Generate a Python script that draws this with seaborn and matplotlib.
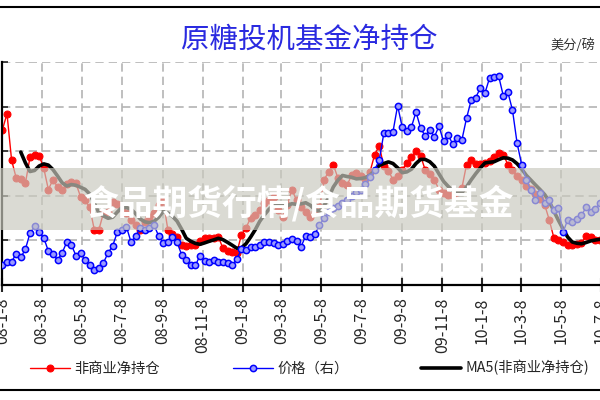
import pandas as pd
import seaborn as sns
import matplotlib.pyplot as plt
from matplotlib.lines import Line2D
from matplotlib.patches import Rectangle

# weekly COT data, first week 2008-01-08
start_date = "2008-01-08"

# non-commercial net position, thousand contracts
net_position = [
    174, 192, 140, 120, 119, 114, 143, 146, 145, 131,
    107, 118, 110, 107, 113, 115, 114, 99, 95, 87,
    62, 62, 81, 82, 93, 91, 87, 81, 73, 67,
    62, 71, 76, 81, 90, 95, 62, 57, 54, 45,
    44, 45, 45, 49, 53, 53, 53, 54, 41, 38,
    37, 36, 56, 64, 75, 78, 84, 92, 95, 99,
    84, 76, 90, 107, 95, 87, 82, 76, 82, 87,
    118, 127, 135, 120, 114, 112, 123, 126, 122, 119,
    127, 146, 156, 133, 128, 118, 122, 129, 137, 143,
    150, 145, 129, 124, 118, 107, 103, 101, 101, 104,
    109, 135, 140, 136, 136, 137, 139, 143, 148, 146,
    135, 129, 122, 118, 111, 108, 102, 96, 90, 73,
    53, 50, 48, 45, 45, 46, 47, 55, 54, 50,
    50,
]

# raw sugar price, US cents per pound (right axis)
price = [
    7.2, 7.6, 7.6, 8.5, 8.1, 9.0, 10.8, 11.6, 10.9, 10.3,
    8.8, 8.5, 7.8, 8.6, 9.8, 9.5, 8.3, 8.6, 7.8, 7.2,
    6.7, 6.9, 7.5, 8.6, 9.4, 10.9, 11.2, 11.5, 9.8, 10.5,
    11.4, 11.2, 11.4, 11.7, 10.5, 9.7, 9.8, 10.4, 9.8, 8.4,
    7.8, 7.2, 7.2, 8.3, 7.7, 7.6, 7.8, 7.6, 7.6, 7.5,
    7.2, 7.9, 9.0, 8.9, 9.3, 9.3, 9.5, 9.8, 9.8, 9.7,
    9.5, 9.6, 9.9, 10.2, 9.9, 9.3, 10.5, 10.4, 10.7, 11.7,
    12.5, 13.2, 13.6, 13.9, 14.2, 14.5, 15.0, 15.4, 15.6, 16.3,
    17.1, 17.9, 19.0, 22.0, 22.0, 22.2, 25.1, 22.7, 22.3, 22.7,
    24.4, 22.6, 21.7, 22.4, 21.6, 22.8, 21.1, 21.8, 20.8, 21.5,
    21.3, 23.7, 25.7, 26.0, 27.1, 26.5, 28.2, 28.3, 28.4, 26.2,
    26.6, 24.6, 20.9, 18.5, 16.8, 15.6, 14.5, 15.3, 14.2, 14.5,
    13.4, 13.6, 10.9, 12.3, 12.1, 12.4, 12.8, 13.7, 13.2, 13.5,
    14.2,
]

tick_labels = ["08-1-8", "08-3-8", "08-5-8", "08-7-8", "08-9-8", "08-11-8",
               "09-1-8", "09-3-8", "09-5-8", "09-7-8", "09-9-8", "09-11-8",
               "10-1-8", "10-3-8", "10-5-8", "10-7-8"]

df = pd.DataFrame({
    "date": pd.date_range(start_date, periods=len(net_position), freq="7D"),
    "net": net_position,
    "price": price,
})
df["ma5"] = df["net"].rolling(5).mean()
tick_dates = pd.to_datetime(["20" + t for t in tick_labels])

sns.set_style("white")
plt.rcParams["font.family"] = ["Noto Sans CJK SC", "DejaVu Sans"]

fig = plt.figure(figsize=(6, 4), dpi=100)
ax = fig.add_axes([0.004, 0.2875, 1.011, 0.5575])

sns.lineplot(data=df, x="date", y="net", ax=ax, color="red", lw=1,
             marker="o", markersize=5, markeredgecolor="red", label="非商业净持仓")
sns.lineplot(data=df, x="date", y="ma5", ax=ax, color="black", lw=2.6,
             label="MA5(非商业净持仓)")

ax2 = ax.twinx()
sns.lineplot(data=df, x="date", y="price", ax=ax2, color="blue", lw=1,
             marker="o", markersize=4.5, markerfacecolor="#9a9aff",
             markeredgecolor="blue", markeredgewidth=1.1, label="价格（右）")

ax.set_xlim(pd.Timestamp("2008-01-08"), pd.Timestamp("2010-07-20"))
ax.set_ylim(0, 250)
ax2.set_ylim(5, 30)
ax.set_yticks([50, 100, 150, 200, 250])
ax.set_xticks(tick_dates)
ax.set_xticklabels(tick_labels, rotation=90, fontsize=11.5, va="top")
ax.set_xlabel("")
ax.set_ylabel("")
ax2.set_ylabel("")
ax.tick_params(axis="y", direction="in", length=4, width=1.2, labelleft=False, left=True)
ax.tick_params(axis="x", direction="inout", length=10, width=1.5, pad=4, bottom=True)
ax2.set_yticks([])
ax.grid(True, color="#b4b4b4", linestyle=(0, (5, 3)), linewidth=1.2)
ax2.grid(False)
for s in ["top", "right"]:
    ax.spines[s].set_visible(False)
    ax2.spines[s].set_visible(False)
ax2.spines["left"].set_visible(False)
ax2.spines["bottom"].set_visible(False)
ax.spines["left"].set_color("black")
ax.spines["left"].set_linewidth(1.6)
ax.spines["bottom"].set_color("black")
ax.spines["bottom"].set_linewidth(1.6)

# legend below the axis
h1, l1 = ax.get_legend_handles_labels()
h2, l2 = ax2.get_legend_handles_labels()
ax.legend_.remove()
ax2.legend_.remove()
fig.legend([h1[0], h2[0], h1[1]], [l1[0], l2[0], l1[1]], ncol=3,
           loc="center left", bbox_to_anchor=(0.05, 0.08), frameon=False,
           fontsize=10.3, handlelength=2.8, handletextpad=0.3, columnspacing=5.1,
           borderpad=0, borderaxespad=0)

# title and unit
fig.text(0.515, 0.9, "原糖投机基金净持仓", ha="center", va="center",
         fontsize=20.5, color="#2a2ae0")
fig.text(0.918, 0.8875, "美分/磅", ha="left", va="center", fontsize=9.5, color="#333333")

# frame lines
fig.add_artist(Line2D([0, 1], [0.9825, 0.9825], color="black", lw=1.5))
fig.add_artist(Line2D([0, 1], [0.025, 0.025], color="black", lw=1.5))

# watermark band
fig.add_artist(Rectangle((0, 0.425), 1, 0.155, transform=fig.transFigure,
                         facecolor=(0.79, 0.79, 0.745), alpha=0.68, edgecolor="none"))
fig.text(0.498, 0.4925, "食品期货行情/食品期货基金", ha="center", va="center",
         fontsize=25, fontweight="bold", color="white", zorder=5)

fig.savefig("out.png", dpi=100)
